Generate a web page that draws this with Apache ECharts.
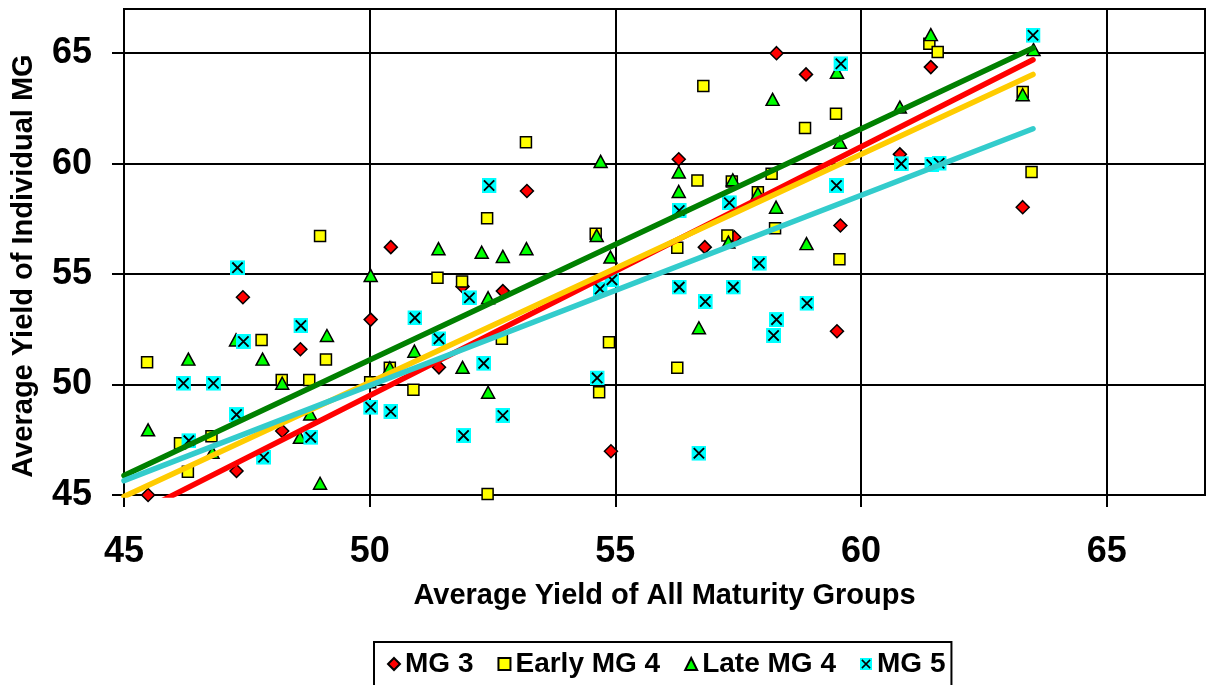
<!DOCTYPE html>
<html>
<head>
<meta charset="utf-8">
<script src="https://cdn.jsdelivr.net/npm/echarts@6/dist/echarts.min.js"></script>
<style>
  html, body { margin: 0; padding: 0; background: #fff; }
  #chart { width: 1206px; height: 685px; }
</style>
</head>
<body>
<div id="chart"></div>
<script>
// Yield of each maturity group vs. the average of all groups, with linear trend lines

// ---- data: [average yield, MG yield] ----
const mg3Points = [
  [45.49, 45.0], [47.29, 46.09], [48.22, 47.9], [47.42, 53.95], [48.59, 51.6],
  [50.02, 52.94], [50.43, 56.22], [51.41, 50.78], [51.89, 54.44], [52.71, 54.23],
  [53.2, 58.76], [54.91, 46.98], [56.29, 60.2], [56.82, 56.22], [57.42, 56.67],
  [58.28, 65.0], [58.88, 64.04], [59.51, 52.41], [59.58, 57.2], [60.79, 60.42],
  [61.42, 64.37], [63.29, 58.03]
];

const earlyMg4Points = [
  [45.47, 51.01], [46.14, 47.34], [46.3, 46.05], [46.78, 47.66], [47.8, 52.02],
  [48.21, 50.21], [48.77, 50.21], [48.99, 56.72], [49.11, 51.13], [50.01, 50.1],
  [50.41, 50.76], [50.89, 49.76], [51.38, 54.83], [51.88, 54.67], [52.39, 57.53],
  [52.4, 45.05], [52.69, 52.07], [53.18, 60.97], [54.6, 56.83], [54.67, 49.65],
  [54.87, 51.92], [56.26, 56.19], [56.26, 50.76], [56.67, 59.24], [56.79, 63.51],
  [57.28, 56.75], [57.37, 59.19], [57.9, 58.7], [58.18, 59.54], [58.25, 57.08],
  [58.86, 61.61], [59.49, 62.26], [59.56, 55.67], [61.39, 65.43], [61.56, 65.05],
  [63.29, 63.24], [63.47, 59.62]
];

const lateMg4Points = [
  [45.49, 47.95], [46.31, 51.15], [46.8, 46.93], [47.28, 52.02], [47.82, 51.15],
  [48.22, 50.06], [48.58, 47.61], [48.79, 48.67], [48.99, 45.53], [49.13, 52.22],
  [50.02, 54.94], [50.41, 50.76], [50.91, 51.51], [51.4, 56.15], [51.89, 50.78],
  [52.28, 55.99], [52.41, 53.93], [52.41, 49.65], [52.71, 55.8], [53.19, 56.15],
  [54.62, 56.75], [54.7, 60.1], [54.9, 55.77], [56.29, 59.62], [56.29, 58.74],
  [56.7, 52.57], [57.3, 56.45], [57.39, 59.27], [57.9, 58.65], [58.2, 62.91],
  [58.27, 58.03], [58.89, 56.38], [59.51, 64.14], [59.57, 60.97], [60.79, 62.56],
  [61.42, 65.84], [63.29, 63.12], [63.51, 65.16]
];

const mg5Points = [
  [46.21, 50.06], [46.32, 47.46], [46.82, 50.06], [47.29, 48.64], [47.31, 55.29],
  [47.43, 51.95], [47.84, 46.71], [48.6, 52.67], [48.8, 47.61], [50.02, 48.97],
  [50.43, 48.78], [50.92, 53.02], [51.41, 52.07], [51.91, 47.69], [52.03, 53.93],
  [52.32, 50.96], [52.43, 59.01], [52.71, 48.6], [54.63, 50.3], [54.69, 54.33],
  [54.93, 54.74], [56.3, 57.88], [56.3, 54.41], [56.7, 46.89], [56.83, 53.76],
  [57.32, 58.23], [57.4, 54.41], [57.93, 55.49], [58.22, 52.22], [58.28, 52.94],
  [58.9, 53.68], [59.5, 59.01], [59.59, 64.52], [60.82, 60.0], [61.44, 59.96],
  [61.59, 60.02], [63.5, 65.81]
];

// trend line end points
const mg3Trend = [[45, 43.87], [63.5, 64.7]];
const earlyMg4Trend = [[45, 44.93], [63.5, 64.04]];
const lateMg4Trend = [[45, 45.88], [63.5, 65.23]];
const mg5Trend = [[45, 45.65], [63.5, 61.58]];

const seriesNames = ['MG 3', 'Early MG 4', 'Late MG 4', 'MG 5'];

// ---- styling ----
const FONT = "'Liberation Sans', Arial, sans-serif";

// cyan box with a black cross, as an image symbol
const xBoxSvg =
  "<svg xmlns='http://www.w3.org/2000/svg' width='32' height='32' viewBox='0 0 16 16'>" +
  "<rect x='0' y='0' width='16' height='16' fill='#00ffff'/>" +
  "<path d='M2.5 2.5 L13.5 13.5 M13.5 2.5 L2.5 13.5' stroke='#000' stroke-width='2'/>" +
  "</svg>";
const xBoxSymbol = 'image://data:image/svg+xml;charset=utf-8,' + encodeURIComponent(xBoxSvg);

function scatter(name, data, symbol, size, color) {
  return {
    name: name,
    type: 'scatter',
    data: data,
    symbol: symbol,
    symbolSize: size,
    z: 2,
    itemStyle: { color: color, borderColor: '#000', borderWidth: 1.5, opacity: 1 }
  };
}

function trend(data, color, z) {
  return {
    type: 'line',
    data: data,
    showSymbol: false,
    symbol: 'none',
    clip: true,
    silent: true,
    z: z,
    lineStyle: { color: color, width: 5.5, cap: 'round' }
  };
}

const chart = echarts.init(document.getElementById('chart'));

const axisCommon = {
  type: 'value',
  min: 45,
  max: 67,
  interval: 5,
  nameLocation: 'middle',
  nameTextStyle: { fontFamily: FONT, fontSize: 29, fontWeight: 'bold', color: '#000' },
  axisLine: { show: true, onZero: false, lineStyle: { color: '#000', width: 2 } },
  axisTick: { show: true, inside: false, length: 12, lineStyle: { color: '#000', width: 2 } },
  splitLine: { show: true, lineStyle: { color: '#000', width: 2 } },
  axisLabel: {
    fontFamily: FONT, fontSize: 36, fontWeight: 'bold', color: '#000',
    showMaxLabel: false
  }
};

const option = {
  animation: false,
  backgroundColor: '#fff',
  grid: {
    left: 124, right: 1, top: 9, bottom: 190,
    show: true, borderColor: '#000', borderWidth: 2, backgroundColor: 'transparent'
  },
  xAxis: {
    ...axisCommon,
    name: 'Average Yield of All Maturity Groups',
    nameGap: 86,
    axisLabel: { ...axisCommon.axisLabel, margin: 39 }
  },
  yAxis: {
    ...axisCommon,
    name: 'Average Yield of Individual MG',
    nameGap: 86,
    nameTextStyle: { ...axisCommon.nameTextStyle, padding: [0, 28, 0, 0] },
    axisLabel: { ...axisCommon.axisLabel, margin: 32 }
  },
  legend: {
    data: seriesNames,
    left: 374,
    top: 642,
    orient: 'horizontal',
    padding: [8, 6, 40, 13],
    itemGap: 24,
    itemWidth: 12,
    itemHeight: 12,
    borderColor: '#000',
    borderWidth: 2,
    textStyle: { fontFamily: FONT, fontSize: 28, fontWeight: 'bold', color: '#000' }
  },
  series: [
    scatter('MG 3', mg3Points, 'diamond', 13, '#ff0000'),
    scatter('Early MG 4', earlyMg4Points, 'rect', 11, '#ffff00'),
    scatter('Late MG 4', lateMg4Points, 'triangle', [13, 12], '#00ff00'),
    scatter('MG 5', mg5Points, xBoxSymbol, 15, '#00ffff'),
    trend(mg3Trend, '#ff0000', 10),
    trend(earlyMg4Trend, '#ffcc00', 11),
    trend(lateMg4Trend, '#008000', 12),
    trend(mg5Trend, '#33cccc', 13)
  ]
};

chart.setOption(option);
</script>
</body>
</html>
